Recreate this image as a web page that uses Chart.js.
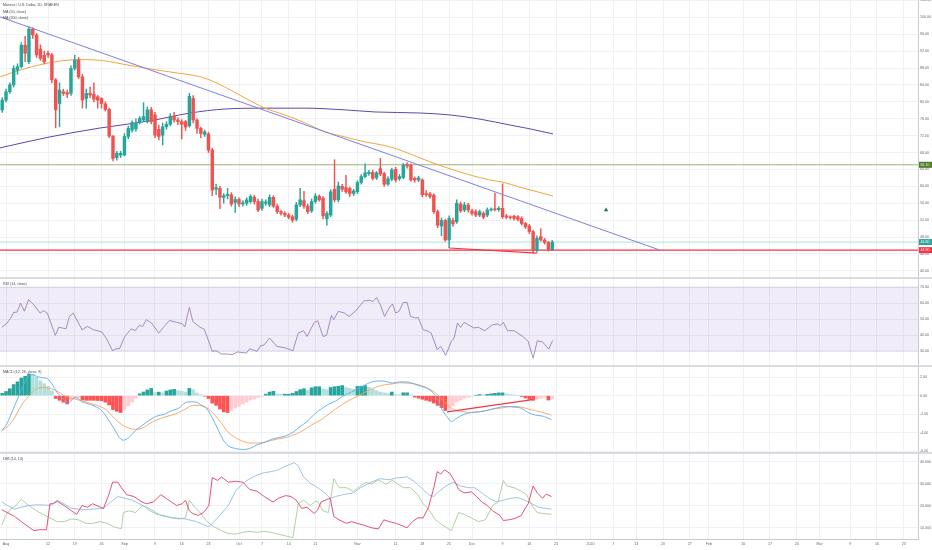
<!DOCTYPE html>
<html lang="en">
<head>
  <meta charset="UTF-8" />
  <title>Monero / U.S. Dollar, 1D, KRAKEN</title>
  <script src="https://cdn.jsdelivr.net/npm/chart.js"></script>
  <style>
    html, body { margin: 0; padding: 0; background: #fff; }
    body { width: 932px; height: 550px; position: relative; overflow: hidden; font-family: Arial, "Liberation Sans", sans-serif; }
    canvas { position: absolute; left: 0; }
    .sep { position: absolute; left: 0; width: 932px; height: 2px; background: #d9dbe0; }
    .legend { position: absolute; left: 3px; font-size: 3.6px; color: #4a4a4a; white-space: nowrap; line-height: 6.5px; }
  </style>
</head>
<body>
  <canvas id="mainChart" width="932" height="277" style="top:0"></canvas>
  <div class="sep" style="top:277px"></div>
  <canvas id="rsiChart" width="932" height="86" style="top:279px"></canvas>
  <div class="sep" style="top:365px"></div>
  <canvas id="macdChart" width="932" height="85" style="top:367px"></canvas>
  <div class="sep" style="top:452px"></div>
  <canvas id="dmiChart" width="932" height="96" style="top:454px"></canvas>

  <div class="legend" style="top:2px">Monero / U.S. Dollar, 1D, KRAKEN<br>MA (50, close)<br>MA (200, close)</div>
  <div class="legend" style="top:281px">RSI (14, close)</div>
  <div class="legend" style="top:369px">MACD (12, 26, close, 9)</div>
  <div class="legend" style="top:456px">DMI (14, 14)</div>

  <script>
    // day index 0 = 31 Jul 2019
    const xMin = -0.58;
    const xMax = 239.76;
    const tickDays = [1, 12, 19, 26, 32, 40, 47, 54, 62, 68, 75, 82, 93, 103, 110, 117, 123, 131, 138, 145, 154, 160, 166, 173, 180, 185, 194, 201, 208, 214, 222, 229, 236];
    const tickText = ['Aug', '12', '19', '26', 'Sep', '9', '16', '23', 'Oct', '7', '14', '21', 'Nov', '11', '18', '25', 'Dec', '9', '16', '23', '2020', '7', '13', '20', '27', 'Feb', '10', '17', '24', 'Mar', '9', '16', '23'];

    const opens = [78.1,80.4,82.4,84.0,87.5,88.3,93.4,89.5,97.2,95.8, 92.5,91.0,91.5,91.1,85.2,79.6,82.4,82.2,82.0,87.9, 89.9,85.9,80.8,82.0,81.8,81.2,80.8,79.5,78.2,71.9, 66.8,67.4,67.4,71.8,73.3,73.6,75.3,75.7,75.3,78.1, 76.9,73.5,72.1,74.1,74.7,76.6,75.7,75.3,75.3,74.3, 80.8,75.7,73.7,72.3,72.4,68.6,59.3,59.5,57.4,57.8, 58.0,56.2,56.9,55.8,56.0,56.4,57.4,56.4,54.8,56.0, 55.6,57.4,55.3,54.0,53.6,53.2,52.8,52.2,55.6,56.6, 55.3,54.2,56.4,57.6,57.2,52.3,53.2,59.3,56.8,60.0, 59.7,59.5,58.3,58.7,60.9,62.3,63.0,63.3,62.0,64.2, 63.0,60.5,61.7,64.0,61.8,62.1,65.2,65.0,61.9,61.5, 61.5,58.3,58.2,57.9,54.0,50.6,51.9,47.3,51.9,51.6, 55.8,54.4,55.6,54.2,54.0,53.2,53.6,53.2,54.4,54.6, 54.5,54.8,53.0,52.7,52.9,52.8,52.4,51.2,50.6,49.3, 44.8,48.1,47.3,46.7,45.0];
    const highs = [81.0,83.0,84.5,88.5,89.0,94.0,95.5,97.8,97.6,96.2, 93.5,92.0,92.0,91.5,85.5,84.5,83.0,82.8,88.5,91.0, 90.5,86.5,83.0,83.5,84.5,81.5,81.0,80.0,78.5,72.0, 68.3,68.3,72.5,74.2,75.5,76.0,76.5,79.8,78.8,78.7, 77.5,74.5,75.0,75.3,77.2,77.5,76.2,75.8,75.6,82.0, 81.5,76.0,74.0,73.3,72.8,69.0,60.5,60.0,58.3,59.5, 58.5,57.5,57.3,56.6,57.3,58.0,57.9,57.0,57.0,56.8, 58.0,57.8,55.8,54.4,54.0,53.6,53.2,56.2,59.5,58.8, 55.8,57.0,58.3,58.0,57.6,54.0,59.2,66.3,61.0,60.5, 62.6,59.8,59.3,61.3,62.8,65.3,63.8,63.8,63.5,66.6, 63.4,62.3,64.3,64.5,62.8,65.4,65.6,65.3,62.2,62.4, 61.8,59.0,58.6,58.2,54.4,52.5,52.2,53.0,52.5,56.8, 56.3,56.2,56.0,54.6,54.5,54.4,54.0,54.9,54.9,58.4, 55.2,60.6,53.4,53.0,53.2,53.1,52.8,51.5,51.0,49.6, 48.3,50.0,47.7,47.0,47.2];
    const lows = [77.5,80.0,82.0,83.5,86.5,88.0,89.5,89.0,95.0,90.5, 89.8,89.0,90.5,84.5,73.9,74.1,81.5,81.0,81.5,87.5, 85.5,78.5,78.5,81.0,80.0,78.5,78.5,77.8,71.5,66.0, 66.2,66.8,67.2,71.3,72.8,73.0,74.8,75.3,75.0,74.8, 71.5,71.0,69.8,73.5,74.3,75.2,74.6,71.2,73.2,74.0, 75.0,72.5,71.5,71.8,68.0,57.8,58.0,54.7,56.0,57.0, 55.3,53.8,55.2,55.3,55.5,56.0,55.8,54.0,54.3,55.5, 55.2,55.0,53.5,53.2,52.8,52.3,51.5,51.8,55.2,54.8, 53.5,53.8,56.0,56.5,52.3,50.8,52.8,56.3,56.3,58.8, 58.3,57.6,57.8,58.3,60.5,62.0,62.6,61.5,61.6,62.5, 60.0,60.2,61.3,61.0,61.4,61.8,64.3,61.2,61.0,61.1, 57.5,57.6,57.2,53.6,50.2,48.3,47.0,45.5,50.5,51.2, 53.8,54.0,53.9,53.2,52.8,52.8,52.3,52.8,54.1,54.2, 54.1,52.4,52.3,52.2,52.0,51.8,50.8,50.0,48.8,44.2, 44.4,47.0,46.3,44.7,44.8];
    const closes = [80.4,82.4,84.0,87.9,88.3,93.4,91.5,97.2,95.8,91.1, 90.3,89.5,91.1,85.2,78.1,82.8,82.0,81.8,87.9,89.9, 85.9,80.4,82.0,81.6,80.6,80.4,79.6,78.2,71.9,66.6, 67.8,67.8,71.8,73.7,75.1,74.9,76.1,76.5,78.1,75.3, 72.1,71.8,74.1,74.7,76.6,75.7,75.3,74.7,74.0,81.3, 75.7,73.7,72.5,72.9,68.6,59.1,59.7,57.4,57.8,58.1, 55.8,56.9,55.8,56.1,56.8,57.6,56.4,54.4,56.4,56.3, 57.4,55.3,54.0,53.6,53.2,52.7,52.0,55.6,56.8,55.3, 54.0,56.4,57.7,56.8,53.0,53.6,58.7,56.8,60.1,59.3, 58.7,58.3,58.9,60.9,62.3,63.2,63.3,61.9,63.2,62.9, 60.5,61.8,63.9,61.5,62.3,65.0,64.8,61.5,61.5,62.0, 58.0,58.0,57.6,54.0,50.8,51.9,47.3,52.4,51.1,56.0, 54.2,55.6,54.4,53.6,53.2,54.0,52.7,54.4,54.6,54.5, 54.8,52.8,52.7,52.6,52.4,52.2,51.2,50.4,49.3,44.8, 47.7,47.3,46.7,45.0,46.8];

    const ma50 = [[-0.58,85.9],[5,87.6],[10.5,88.9],[15.5,89.7],[20.4,90.0],[26,89.8],[33.5,88.6],[40,87.6],[46,86.8],[49.2,86.4],[53.1,85.6],[58.3,83.5],[63.6,80.9],[68.8,78.5],[74,76.9],[79.3,75.0],[84.5,72.9],[89.7,71.7],[95,70.5],[100,69.7],[104.1,68.6],[112,65.8],[119.8,63.4],[127.7,61.5],[131,61.0],[135.6,59.8],[144.2,57.7]];
    const ma200 = [[-0.58,69.1],[12.5,71.7],[25.6,73.8],[38.7,75.5],[49.2,77.35],[58.3,78.3],[68.8,78.5],[79.3,78.5],[89.7,78.1],[97.6,77.6],[109.4,77.35],[117.2,76.9],[125.1,75.9],[133,74.5],[138.2,73.6],[144.2,72.4]];
    const trendLine = [[-0.58,100.1],[172.2,44.9]];
    const lowLine = [[117,45.4],[140,44.2]];
    const levelLines = [65.1, 46.8, 44.9];
    const levelColors = ['#93a867', '#a6dcd6', '#f23645'];
    const tagColors = ['#4f7a28', '#26a69a', '#f23645'];
    const arrowMark = [[158.1,54.4]];

    const rsi = [[-0.1,44.8],[1.3,47.5],[2.2,50.6],[3.0,54.1],[3.9,54.3],[4.8,60.0],[5.8,54.8],[6.9,62.1],[8.3,58.9],[9.9,53.7],[10.8,55.2],[11.8,53.7],[13.9,39.8],[14.8,44.8],[16.7,43.9],[17.6,51.6],[18.6,53.7],[20.9,43.3],[22.3,45.4],[23.9,43.3],[26.1,41.9],[27.3,37.7],[28.9,30.2],[29.8,31.4],[30.7,31.4],[32.1,39.1],[33.8,43.9],[34.8,42.7],[35.9,46.0],[36.8,45.4],[37.7,49.6],[39.1,47.5],[41.0,41.2],[42.2,44.8],[43.8,49.1],[45.7,47.9],[47.1,47.1],[47.8,45.0],[49.0,57.3],[49.9,48.5],[51.8,44.8],[52.9,43.7],[55.0,29.8],[56.0,30.2],[57.4,28.1],[59.2,28.1],[60.2,27.7],[61.6,29.4],[63.9,28.7],[64.8,31.4],[66.7,29.8],[67.5,32.9],[68.6,33.9],[70.0,38.1],[71.9,32.9],[74.2,31.9],[76.1,30.2],[77.5,41.2],[78.9,42.7],[79.8,39.1],[81.7,47.9],[82.6,48.9],[84.0,39.1],[84.9,39.8],[86.2,52.3],[86.8,49.6],[88.0,54.8],[89.6,53.7],[90.8,51.6],[92.4,54.8],[94.8,61.4],[96.2,61.6],[97.1,61.0],[98.0,63.5],[99.0,58.9],[100.1,51.6],[101.3,56.9],[102.2,59.4],[103.0,53.7],[103.9,54.8],[105.0,60.4],[106.0,60.4],[106.9,51.6],[108.3,50.6],[108.9,51.0],[110.2,43.3],[111.6,42.3],[112.3,41.2],[113.9,30.8],[114.8,32.9],[116.1,27.3],[117.6,36.0],[118.3,38.1],[119.2,47.5],[120.0,44.8],[120.9,47.9],[122.3,46.0],[123.5,44.4],[124.7,44.8],[126.3,42.7],[128.4,46.4],[129.8,46.9],[130.3,45.8],[131.2,47.9],[132.3,42.7],[134.0,42.7],[136.3,39.1],[137.7,36.0],[139.0,25.6],[140.1,36.4],[141.5,35.6],[143.1,31.2],[144.1,36.6]];

    const macdHist = [0.25,0.45,0.75,1.2,1.5,1.9,2.1,2.35,2.3,2.0, 1.6,1.3,1.0,0.5,-0.3,-0.5,-0.7,-0.9,-0.5,-0.3, -0.2,-0.47,-0.5,-0.5,-0.5,-0.52,-0.55,-0.7,-1.0,-1.5, -1.7,-1.82,-1.5,-1.1,-0.7,-0.3,0.2,0.4,0.62,0.78, 0.35,0.38,0.3,0.5,0.62,0.68,0.55,0.48,0.4,0.78, 0.65,0.3,0.1,-0.05,-0.3,-0.8,-1.05,-1.45,-1.75,-1.82, -1.6,-1.35,-1.15,-0.9,-0.7,-0.47,-0.35,-0.2,-0.08,0.16, 0.39,0.47,0.2,0.15,0.16,0.16,0.25,0.45,0.65,0.75, 0.6,0.85,0.97,0.97,0.72,0.65,0.89,0.97,1.02,1.09, 0.9,0.78,0.7,1.0,1.02,1.09,0.9,0.7,0.54,0.39, 0.31,0.23,0.39,0.12,0.1,0.31,0.31,0.1,-0.16,-0.27, -0.39,-0.5,-0.6,-0.8,-1.05,-1.3,-1.6,-1.5,-1.1,-0.7, -0.47,-0.27,-0.16,-0.05,0.05,0.12,0.1,0.15,0.2,0.25, 0.3,0.3,0.2,0.12,0.08,0.04,-0.08,-0.25,-0.39,-0.5, -0.4,-0.3,-0.18,-0.47,-0.35];
    const macdLine = [[-0.1,-3.77],[1.3,-2.99],[2.7,-1.63],[4.1,-0.27],[5.5,1.09],[6.7,2.06],[8.0,2.25],[9.2,2.06],[10.6,1.94],[12.0,1.79],[13.0,1.28],[14.4,0.31],[15.8,-0.27],[17.2,-0.85],[19.1,-0.16],[20.9,-0.66],[22.8,-0.93],[24.7,-1.24],[26.1,-1.63],[27.5,-2.41],[29.3,-3.57],[30.7,-4.54],[31.7,-4.81],[33.1,-4.54],[34.9,-3.77],[36.8,-3.18],[38.7,-2.60],[40.5,-2.21],[42.4,-2.02],[44.3,-1.63],[46.2,-1.36],[48.0,-0.74],[49.4,-0.66],[50.8,-0.70],[52.2,-1.05],[53.6,-1.44],[55.0,-2.41],[56.4,-3.57],[57.8,-4.74],[59.2,-5.43],[61.1,-5.71],[63.0,-5.82],[64.8,-5.71],[66.7,-5.32],[68.6,-5.05],[70.4,-4.74],[72.3,-4.54],[74.2,-4.35],[76.1,-3.96],[77.9,-3.38],[79.8,-2.80],[81.7,-2.02],[83.5,-1.44],[85.4,-0.93],[87.3,-0.58],[89.1,-0.08],[91.0,0.31],[92.9,0.70],[94.7,1.09],[96.6,1.48],[98.5,1.59],[100.4,1.55],[102.2,1.36],[104.1,1.48],[106.0,1.48],[107.8,1.28],[109.7,1.01],[111.6,0.70],[113.4,0.0],[115.3,-1.63],[116.7,-2.41],[117.6,-2.80],[119.1,-2.41],[120.9,-2.02],[122.8,-1.82],[124.7,-1.75],[126.5,-1.63],[128.4,-1.44],[130.3,-1.24],[132.1,-1.16],[134.0,-1.24],[135.9,-1.36],[137.7,-1.82],[139.6,-2.10],[141.5,-2.21],[143.8,-2.60]];
    const signalLine = [[-0.1,-3.77],[1.3,-3.38],[3.2,-2.41],[5.0,-1.05],[6.9,-0.08],[8.8,0.70],[10.6,0.89],[12.5,0.78],[14.4,0.50],[16.2,0.0],[18.1,-0.27],[20.0,-0.47],[21.9,-0.66],[23.7,-0.93],[25.6,-1.16],[27.5,-1.63],[29.3,-2.41],[31.2,-3.11],[33.1,-3.49],[34.9,-3.65],[36.8,-3.49],[38.7,-2.99],[40.5,-2.60],[42.4,-2.33],[44.3,-2.10],[46.2,-1.82],[48.0,-1.44],[49.9,-1.05],[51.8,-1.05],[53.6,-1.32],[55.5,-2.02],[57.4,-2.99],[59.2,-3.96],[61.1,-4.54],[63.0,-4.93],[64.8,-5.12],[66.7,-5.12],[68.6,-5.05],[70.4,-4.85],[72.3,-4.66],[74.2,-4.54],[76.1,-4.27],[77.9,-3.96],[79.8,-3.49],[81.7,-2.99],[83.5,-2.60],[85.4,-2.02],[87.3,-1.44],[89.1,-0.93],[91.0,-0.47],[92.9,-0.08],[94.7,0.31],[96.6,0.70],[98.5,1.01],[100.4,1.20],[102.2,1.28],[104.1,1.40],[106.0,1.36],[107.8,1.28],[109.7,1.09],[111.6,0.78],[113.4,0.31],[115.3,-0.47],[117.2,-1.24],[119.1,-1.63],[120.9,-1.75],[122.8,-1.82],[124.7,-1.75],[126.5,-1.63],[128.4,-1.44],[130.3,-1.36],[132.1,-1.24],[134.0,-1.16],[135.9,-1.24],[137.7,-1.44],[139.6,-1.63],[141.5,-1.82],[143.8,-2.10]];
    const macdMark = [[116.5,-1.75],[138.8,-0.42]];

    const dmiRed = [[-0.1,18.3],[1.3,17.0],[3.2,15.3],[5.0,12.9],[6.9,10.5],[8.3,8.8],[9.7,9.2],[11.6,9.2],[12.5,21.0],[13.4,21.0],[14.4,22.1],[16.2,20.2],[18.1,17.8],[19.5,16.2],[20.9,20.2],[22.3,19.4],[23.7,21.0],[25.1,19.9],[26.5,18.9],[27.9,25.1],[28.9,30.8],[30.3,30.8],[31.2,28.3],[32.6,25.1],[34.5,24.3],[36.3,22.1],[37.7,21.0],[39.6,21.8],[41.5,25.1],[42.9,23.5],[44.3,21.8],[45.7,20.2],[47.1,21.0],[48.0,22.6],[49.0,17.8],[49.9,16.6],[51.3,15.7],[52.7,17.0],[54.1,20.2],[55.0,32.9],[56.4,31.6],[57.4,33.2],[59.2,30.8],[61.1,31.2],[63.0,30.8],[64.8,27.5],[66.7,26.7],[68.6,24.3],[70.9,21.8],[72.3,23.5],[74.2,24.7],[75.6,24.3],[77.0,22.6],[78.4,18.9],[79.8,19.4],[81.7,16.6],[82.6,18.3],[83.5,21.8],[84.5,22.6],[85.9,23.5],[86.8,15.3],[88.2,13.7],[90.1,12.1],[91.5,12.9],[92.9,12.1],[94.7,11.3],[96.6,10.1],[98.5,9.6],[99.9,13.7],[101.3,12.9],[103.2,12.1],[106.0,10.1],[107.4,12.9],[108.8,14.6],[110.2,14.6],[111.6,19.4],[113.0,28.3],[113.9,35.6],[114.8,34.5],[115.8,36.4],[117.2,34.8],[118.6,30.8],[119.5,27.5],[120.9,25.9],[122.8,26.4],[124.2,24.3],[125.6,21.8],[127.0,20.2],[128.4,17.8],[130.3,15.7],[131.2,13.4],[132.6,13.7],[134.0,14.2],[135.9,15.7],[136.8,18.6],[137.7,21.0],[139.0,29.1],[140.1,25.9],[141.5,23.5],[142.4,25.4],[143.8,24.3]];
    const dmiBlue = [[-0.1,21.8],[1.3,20.2],[3.2,18.6],[5.0,19.4],[6.9,20.2],[8.8,20.5],[10.6,20.5],[12.5,20.2],[14.4,22.6],[16.2,21.0],[18.1,18.9],[20.0,18.6],[21.9,18.3],[23.7,18.6],[26.5,18.9],[28.4,21.8],[30.3,24.3],[32.1,23.5],[34.0,22.6],[35.9,21.0],[38.7,18.6],[41.5,15.7],[43.3,15.0],[45.2,14.6],[48.0,14.1],[50.8,12.9],[54.1,10.5],[56.4,14.6],[59.2,20.2],[61.1,26.7],[63.0,30.3],[64.8,32.4],[66.7,34.0],[68.6,35.1],[70.4,35.6],[72.3,36.4],[74.2,38.1],[76.5,39.7],[77.5,38.1],[78.9,33.2],[80.7,30.3],[82.6,28.3],[84.5,25.9],[85.9,23.5],[87.3,24.3],[89.1,25.1],[91.9,25.9],[93.8,28.3],[96.6,30.8],[98.9,32.4],[101.3,31.9],[103.2,32.7],[106.0,33.2],[107.8,31.2],[109.7,28.3],[111.6,25.1],[113.0,24.3],[114.4,26.7],[116.2,29.1],[118.1,30.8],[120.0,29.1],[121.9,28.3],[123.7,28.3],[125.6,25.9],[127.5,23.5],[129.3,21.8],[131.2,22.6],[133.1,23.5],[135.0,23.8],[136.8,22.6],[138.7,21.0],[140.5,19.4],[142.4,18.9],[143.8,18.6]];
    const dmiGreen = [[-0.1,11.3],[0.8,15.3],[2.2,18.6],[3.6,20.2],[5.0,23.1],[6.4,21.0],[8.3,18.6],[10.6,16.2],[12.5,14.6],[14.4,12.9],[16.2,12.9],[18.1,14.1],[20.0,13.7],[21.9,12.1],[23.7,12.1],[25.6,12.9],[27.5,12.1],[29.3,10.5],[31.2,9.6],[31.7,17.0],[33.1,17.8],[34.9,17.0],[36.8,20.2],[38.7,17.8],[40.5,16.2],[42.4,15.7],[44.3,14.6],[46.2,14.1],[48.0,14.6],[49.0,22.6],[50.4,19.4],[52.2,16.2],[53.6,12.9],[55.5,10.5],[57.4,8.8],[59.2,7.5],[61.1,7.2],[63.0,8.0],[64.8,8.5],[66.7,8.0],[68.6,8.5],[70.4,8.0],[72.3,7.2],[74.2,6.4],[76.1,5.6],[77.5,21.0],[78.9,22.6],[80.7,20.2],[81.7,21.8],[82.6,22.1],[84.0,17.8],[85.4,17.0],[86.8,32.4],[88.2,28.3],[90.1,28.3],[91.9,26.7],[93.8,29.1],[95.2,30.8],[96.6,29.9],[98.5,31.9],[100.4,29.9],[102.2,31.6],[103.6,29.9],[105.0,28.3],[106.9,28.3],[108.8,25.1],[110.2,21.0],[111.6,18.6],[113.4,13.7],[115.3,11.3],[117.6,8.8],[119.5,17.0],[120.9,16.2],[122.8,14.6],[124.7,12.9],[126.5,13.7],[128.4,20.2],[129.8,21.8],[131.2,31.6],[132.1,29.1],[134.0,28.3],[135.9,26.7],[137.3,25.1],[138.7,20.2],[140.1,17.0],[141.5,16.6],[143.8,16.2]];

    const priceTicks = [40, 44, 48, 52, 56, 60, 64, 68, 72, 76, 80, 84, 88, 92, 96, 100, 104];
    const rsiTicks = [30, 40, 50, 60, 70];
    const macdTicks = [-6, -4, -2, 0, 2];
    const dmiTicks = [10, 20, 30, 40];

    const UP = '#26a69a';
    const DOWN = '#ef5350';
    const gridColor = '#f0f1f4';
    const axisColor = '#c8cad0';
    const tickFont = { size: 3.6, family: 'Arial' };

    const xScale = (showLabels) => ({
      type: 'linear',
      min: xMin,
      max: xMax,
      bounds: 'data',
      offset: false,
      afterBuildTicks: s => { s.ticks = tickDays.map(v => ({ value: v })); },
      afterFit: s => { s.paddingLeft = 0; s.paddingRight = 0; s.height = showLabels ? 11 : 0; },
      grid: { color: gridColor, drawTicks: false, offset: false },
      border: { display: showLabels, color: axisColor },
      ticks: {
        display: showLabels, autoSkip: false, maxRotation: 0, padding: 3,
        font: tickFont, color: '#666',
        callback: v => tickText[tickDays.indexOf(v)]
      }
    });

    const yScale = (min, max, ticks, digits) => ({
      position: 'right',
      min, max,
      bounds: 'data',
      afterBuildTicks: s => { s.ticks = ticks.map(v => ({ value: v })); },
      afterFit: s => { s.width = 14; s.paddingTop = 0; s.paddingBottom = 0; },
      grid: { color: gridColor, drawTicks: false },
      border: { display: true, color: axisColor },
      ticks: { autoSkip: false, padding: 2, font: tickFont, color: '#666', callback: v => v.toFixed(digits) }
    });

    const line = (points, color, width = 0.9, extra = {}) => ({
      type: 'line',
      data: points.map(p => ({ x: p[0], y: p[1] })),
      borderColor: color,
      borderWidth: width,
      pointRadius: 0,
      fill: false,
      tension: 0,
      ...extra
    });

    // autoPadding off so every pane spans exactly 0..918 px
    const makeChart = (id, datasets, y, showX, plugins = []) => new Chart(document.getElementById(id), {
      type: 'bar',
      data: { datasets },
      options: {
        animation: false,
        responsive: false,
        maintainAspectRatio: false,
        layout: { padding: 0, autoPadding: false },
        plugins: { legend: { display: false }, tooltip: { enabled: false } },
        scales: { x: xScale(showX), y }
      },
      plugins
    });

    // coloured price tags on the right scale
    const priceTags = {
      id: 'priceTags',
      afterDraw(chart) {
        const { ctx, chartArea, scales } = chart;
        ctx.save();
        ctx.font = '3.6px Arial';
        ctx.textBaseline = 'middle';
        levelLines.forEach((v, k) => {
          const py = scales.y.getPixelForValue(v);
          ctx.fillStyle = tagColors[k];
          ctx.fillRect(chartArea.right + 1, py - 3, 13, 6);
          ctx.fillStyle = '#fff';
          ctx.fillText(v.toFixed(2), chartArea.right + 2.5, py + 0.3);
        });
        ctx.restore();
      }
    };

    const candleColor = closes.map((c, k) => c >= opens[k] ? UP : DOWN);
    const smooth = { tension: 0.4, cubicInterpolationMode: 'monotone' };

    makeChart('mainChart', [
      line(lowLine, '#f23645', 1.2),
      line(trendLine, '#7f7fe3', 1),
      {
        label: 'body', grouped: false, barThickness: 2.8, minBarLength: 0.8,
        data: opens.map((o, k) => ({ x: k, y: [o, closes[k]] })),
        backgroundColor: candleColor
      },
      {
        label: 'wick', grouped: false, barThickness: 0.8,
        data: opens.map((o, k) => ({ x: k, y: [lows[k], highs[k]] })),
        backgroundColor: candleColor
      },
      line(ma50, '#f5a53f', 1, smooth),
      line(ma200, '#5a48b0', 1, smooth),
      ...levelLines.map((v, k) => line([[xMin, v], [xMax, v]], levelColors[k], k === 2 ? 1.2 : 0.9)),
      line(arrowMark, '#1f7a4c', 0, { showLine: false, pointRadius: 2.6, pointStyle: 'triangle', pointBackgroundColor: '#1f7a4c', pointBorderWidth: 0 })
    ], yScale(38.54, 104.1, priceTicks, 2), false, [priceTags]);

    makeChart('rsiChart', [
      line(rsi, '#9274b3', 0.8),
      line([[xMin, 70], [xMax, 70]], 'rgba(126,87,194,0.28)', 0.6),
      line([[xMin, 30], [xMax, 30]], 'rgba(126,87,194,0.28)', 0.6, { fill: '-1', backgroundColor: 'rgba(126,87,194,0.11)' })
    ], yScale(21.25, 75, rsiTicks, 2), false);

    const histColor = macdHist.map((v, k) => {
      const prev = k > 0 ? macdHist[k - 1] : 0;
      if (v >= 0) return v >= prev ? '#26a69a' : '#b2dfdb';
      return v <= prev ? '#ff5252' : '#ffcdd2';
    });

    makeChart('macdChart', [
      line(macdMark, '#f23645', 1.2),
      line(macdLine, '#5aaef0', 0.9, smooth),
      line(signalLine, '#f7a35c', 0.9, smooth),
      {
        label: 'hist', grouped: false, barThickness: 3,
        data: macdHist.map((v, k) => ({ x: k, y: v })),
        backgroundColor: histColor
      }
    ], yScale(-6.09, 3.1, macdTicks, 2), false);

    makeChart('dmiChart', [
      line(dmiRed, '#e0406a', 0.9),
      line(dmiBlue, '#93bde2', 0.9),
      line(dmiGreen, '#a9c99c', 0.9)
    ], yScale(5.0, 43.6, dmiTicks, 3), true);
  </script>
</body>
</html>
